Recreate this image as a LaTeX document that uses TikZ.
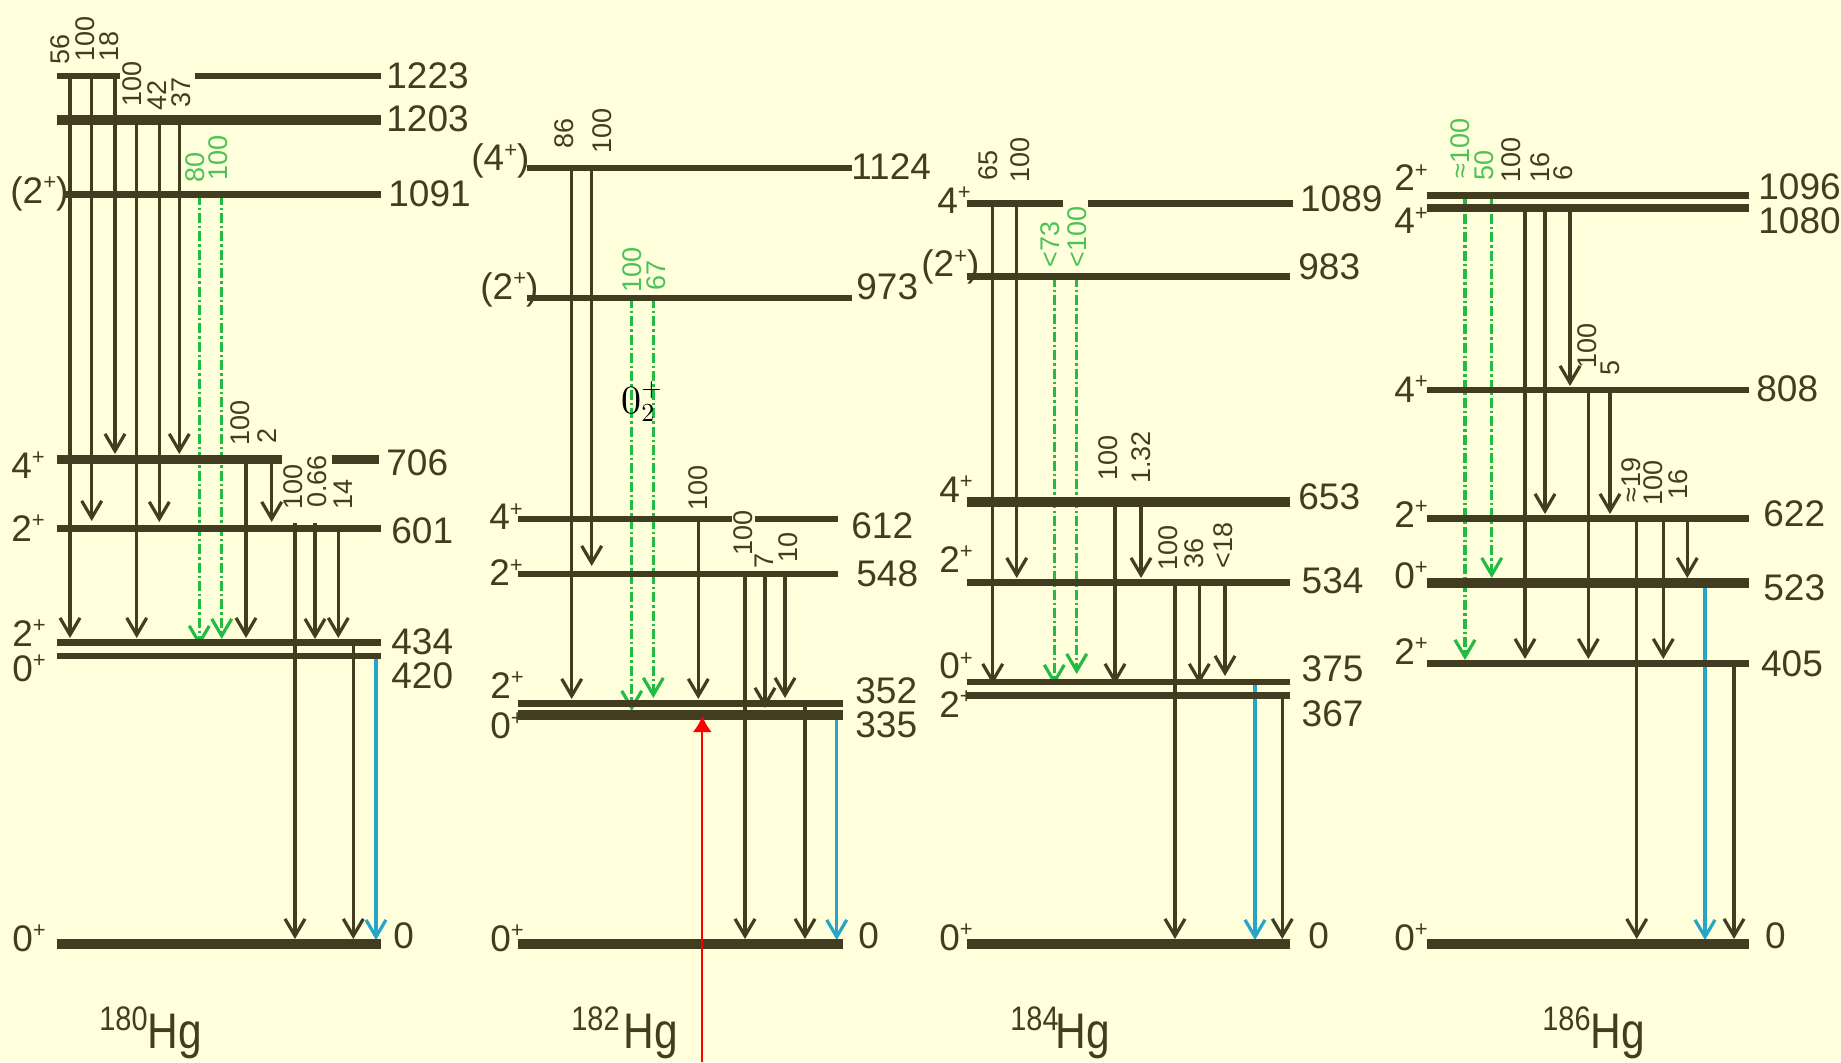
\documentclass[tikz,border=0pt]{standalone}
\usepackage{fontspec}
\setmainfont{Liberation Sans}
\newfontfamily\hgf[FakeStretch=0.85]{Liberation Sans}
\newfontfamily\lmr{lmroman10-regular.otf}
\usetikzlibrary{arrows.meta}
\definecolor{bg}{RGB}{255,255,220}
\definecolor{lv}{RGB}{66,60,32}
\definecolor{gr}{RGB}{34,187,68}
\definecolor{grt}{RGB}{75,195,85}
\definecolor{bl}{RGB}{38,165,200}
\newcounter{nd}
\newcommand\spin[1]{#1\raisebox{0.36em}{\fontsize{11}{11}\selectfont+}}
\newcommand\LV[4]{\draw[lvl,line width=#4] (#1,#3) -- (#2,#3);}
\newcommand\TR[4][trn]{\draw[#1] (#2,#3) -- (#2,#4);}
\newcommand\IL[4][ilab]{\stepcounter{nd}\node[#1] (n\arabic{nd}) at (#2,#3) {#4};}
\newcommand\EL[3]{\stepcounter{nd}\node[elab] (n\arabic{nd}) at (#1,#2) {#3};}
\newcommand\SL[3]{\stepcounter{nd}\node[elab] (n\arabic{nd}) at (#1,#2) {\spin{#3}};}
\newcommand\SLP[3]{\stepcounter{nd}\node[elab] (n\arabic{nd}) at (#1,#2) {(\spin{#3})};}
\newcommand\ISO[5]{\stepcounter{nd}\node[mass] (n\arabic{nd}) at (#1,#2) {#5};
  \stepcounter{nd}\node[hgl] (n\arabic{nd}) at (#3,#4) {Hg};}
\tikzset{
  lvl/.style={draw=lv, line cap=butt},
  tip/.style={-{Straight Barb[length=8.5pt,width=10pt]}},
  trn/.style={draw=lv, line width=1.6pt, tip},
  grn/.style={draw=gr, line width=1.6pt, dash pattern=on 5pt off 1.5pt on 1.2pt off 1.5pt, tip},
  blu/.style={draw=bl, line width=1.6pt, tip},
  ilab/.style={rotate=90, anchor=west, inner sep=0pt, text=lv, font=\fontsize{13.5}{14}\selectfont},
  ilabg/.style={ilab, text=grt},
  elab/.style={anchor=base west, inner sep=0pt, text=lv, font=\fontsize{18.5}{20}\selectfont},
  mass/.style={anchor=base west, inner sep=0pt, text=lv, font=\hgf\fontsize{17}{18}\selectfont},
  hgl/.style={anchor=base west, inner sep=0pt, text=lv, font=\hgf\fontsize{25}{26}\selectfont}
}
\begin{document}
\begin{tikzpicture}[x=0.5pt,y=-0.5pt]
\fill[bg] (0,0) rectangle (1841,1062);
\useasboundingbox (0,0) rectangle (1841,1062);

% ================= 180Hg =================
\TR{70}{76}{638}
\TR{91.7}{76}{521}
\TR{115}{76}{454}
\TR{136.7}{120.4}{638}
\TR{159.3}{120.4}{522}
\TR{179.3}{120.4}{454}
\TR[grn]{199.3}{194.6}{646}
\TR[grn]{221.7}{194.6}{639}
\TR{246}{459.6}{638}
\TR{271.7}{459.6}{522}
\TR{295}{523}{939}
\TR{315}{523}{639}
\TR{338.3}{528.6}{638}
\TR{353.3}{642.6}{939}
\TR[blu]{376}{656}{940}
\LV{56.7}{120}{76}{3pt}
\LV{195}{381}{76}{3pt}
\LV{56.7}{381}{120.4}{5pt}
\LV{63.3}{381}{194.6}{3.3pt}
\LV{56.7}{281.7}{459.6}{4.8pt}
\LV{331.7}{379}{459.6}{4.8pt}
\LV{56.7}{381}{528.6}{3.6pt}
\LV{56.7}{381}{642.6}{3.4pt}
\LV{56.7}{381}{655.9}{3.4pt}
\LV{56.7}{381}{943.7}{5pt}
\IL{60}{65}{56}
\IL{85}{62}{100}
\IL{109}{62}{18}
\IL{132}{107}{100}
\IL{157}{111}{42}
\IL{181}{108}{37}
\IL[ilabg]{195}{183}{80}
\IL[ilabg]{218}{181}{100}
\IL{240}{446}{100}
\IL{267}{444}{2}
\IL{293}{510}{100}
\IL{317.5}{508}{0.66}
\IL{343}{510}{14}
\EL{386}{88}{1223}
\EL{386}{131.6}{1203}
\EL{388}{206}{1091}
\EL{386}{475}{706}
\EL{391}{543}{601}
\EL{391}{654.6}{434}
\EL{391}{688.6}{420}
\EL{393}{948.5}{0}
\SLP{10}{203}{2}
\SL{11}{478}{4}
\SL{11}{541}{2}
\SL{12}{646}{2}
\SL{12}{681}{0}
\SL{12}{951}{0}
\ISO{99}{1030}{147}{1048}{180}

% ================= 182Hg =================
\TR{571.7}{168.3}{699}
\TR{591.7}{168.3}{566}
\TR[grn]{631.7}{297.7}{711}
\TR[grn]{653.3}{297.7}{698}
\TR{698.3}{519}{699}
\TR{745}{573.5}{939}
\TR{765}{573.5}{708}
\TR{785}{573.5}{698}
\TR{805}{703.2}{939}
\TR[blu]{836.7}{715}{940}
\LV{527}{851.7}{168.3}{3pt}
\LV{527}{851.7}{297.7}{3pt}
\LV{518.3}{731.7}{519}{3pt}
\LV{755}{838.3}{519}{3pt}
\LV{518.3}{838.3}{573.5}{3pt}
\LV{518.3}{842.7}{703.2}{3.4pt}
\LV{518.3}{842.7}{715}{5pt}
\LV{518.3}{842.7}{943.7}{5pt}
\IL{564}{149}{86}
\IL{602}{154}{100}
\IL[ilabg]{631.7}{293}{100}
\IL[ilabg]{656}{291}{67}
\IL{698}{511}{100}
\IL{743}{556}{100}
\IL{764}{569}{7}
\IL{788}{563}{10}
\stepcounter{nd}\node[anchor=base west, inner sep=0pt, text=black, font=\lmr\fontsize{20}{20}\selectfont] (n\arabic{nd}) at (621,413) {0\rlap{\raisebox{0.42em}{\fontsize{13}{13}\selectfont +}}\raisebox{-0.2em}{\fontsize{13}{13}\selectfont 2}};
\EL{851}{179.7}{1124}
\EL{856}{299.7}{973}
\EL{851}{538}{612}
\EL{856}{586.5}{548}
\EL{855}{703}{352}
\EL{855}{737}{335}
\EL{858}{948.5}{0}
\SLP{471}{170.7}{4}
\SLP{480}{299}{2}
\SL{489}{529.7}{4}
\SL{489}{585.6}{2}
\SL{490}{698}{2}
\SL{490}{738.8}{0}
\SL{490}{951}{0}
\ISO{571}{1030}{623}{1048}{182}
\coordinate (redfoot) at (702.3,1062);
\coordinate (redtop) at (702.3,716);
\draw[red, line width=1.1pt, -{Latex[length=8pt,width=9.5pt]}] (redfoot) -- (redtop);

% ================= 184Hg =================
\TR{992.7}{203.3}{684}
\TR{1016.7}{203.3}{578}
\TR[grn]{1054.3}{276.7}{685}
\TR[grn]{1076.7}{276.7}{674}
\TR{1115}{501.7}{684}
\TR{1141}{501.7}{578}
\TR{1175}{582.4}{939}
\TR{1199.3}{582.4}{684}
\TR{1225}{582.4}{676}
\TR[blu]{1255}{682}{940}
\TR{1282.3}{695.3}{939}
\LV{966.7}{1063.3}{203.3}{3.3pt}
\LV{1088.3}{1292.7}{203.3}{3.3pt}
\LV{966.7}{1290}{276.7}{3.3pt}
\LV{966.7}{1290}{501.7}{5pt}
\LV{966.7}{1290}{582.4}{3.4pt}
\LV{966.7}{1290}{682}{3.4pt}
\LV{966.7}{1290}{695.3}{3.4pt}
\LV{966.7}{1290}{943.7}{5pt}
\IL{988}{181}{65}
\IL{1020}{183}{100}
\IL[ilabg]{1050}{268}{<73}
\IL[ilabg]{1076.7}{268}{<100}
\IL{1108}{481}{100}
\IL{1141}{484}{1.32}
\IL{1168}{571}{100}
\IL{1194}{569}{36}
\IL{1223}{569}{<18}
\EL{1299.7}{211}{1089}
\EL{1298}{279.7}{983}
\EL{1298}{509.7}{653}
\EL{1301.3}{593.6}{534}
\EL{1301.3}{681.5}{375}
\EL{1301.3}{726}{367}
\EL{1308}{948}{0}
\SL{937}{213}{4}
\SLP{921}{276.7}{2}
\SL{939}{502}{4}
\SL{939}{572}{2}
\SL{939}{678.6}{0}
\SL{939}{717.3}{2}
\SL{939}{950}{0}
\ISO{1010}{1030}{1055}{1048}{184}

% ================= 186Hg =================
\TR[grn]{1465}{195.5}{660}
\TR[grn]{1491.7}{195.5}{578}
\TR{1525}{208.2}{659}
\TR{1545}{208.2}{514}
\TR{1570}{208.2}{386}
\TR{1588.3}{390}{659}
\TR{1610}{390}{514}
\TR{1636.7}{518.3}{939}
\TR{1663.3}{518.3}{659}
\TR{1687.3}{518.3}{578}
\TR[blu]{1705}{583}{940}
\TR{1734}{663.8}{939}
\LV{1426.7}{1749.3}{195.5}{3.9pt}
\LV{1426.7}{1749.3}{208.2}{3.9pt}
\LV{1426.7}{1749.3}{390}{3.3pt}
\LV{1426.7}{1749.3}{518.3}{3.3pt}
\LV{1426.7}{1749.3}{583}{4.6pt}
\LV{1426.7}{1749.3}{663.8}{3.4pt}
\LV{1426.7}{1749.3}{943.7}{5pt}
\IL[ilabg]{1460}{179}{≈100}
\IL[ilabg]{1484}{181}{50}
\IL{1511}{183}{100}
\IL{1540}{183}{16}
\IL{1563}{181}{6}
\IL{1587}{369}{100}
\IL{1610}{376}{5}
\IL{1631}{503}{≈19}
\IL{1653}{506}{100}
\IL{1678}{500}{16}
\EL{1758}{199.7}{1096}
\EL{1758}{233}{1080}
\EL{1756}{401}{808}
\EL{1763}{526}{622}
\EL{1763}{600.8}{523}
\EL{1760.7}{676}{405}
\EL{1764.7}{948}{0}
\SL{1394}{190.5}{2}
\SL{1394}{233.7}{4}
\SL{1394}{402}{4}
\SL{1394}{527}{2}
\SL{1394}{588}{0}
\SL{1394}{664}{2}
\SL{1394}{950}{0}
\ISO{1542}{1030}{1590}{1048}{186}
\end{tikzpicture}
\end{document}
